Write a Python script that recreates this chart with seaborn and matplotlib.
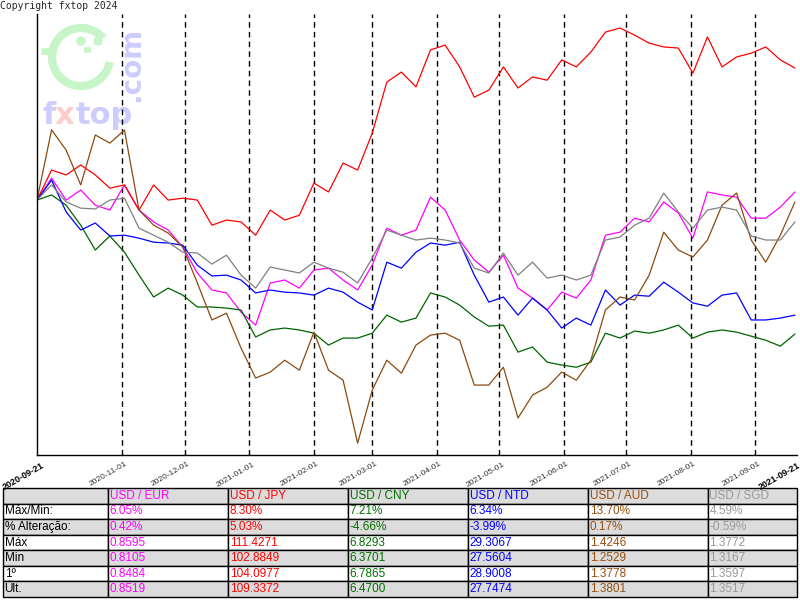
import pandas as pd
import matplotlib
matplotlib.use("Agg")
import matplotlib.pyplot as plt
import matplotlib.transforms as mtransforms
from matplotlib.patches import Arc, Circle
import seaborn as sns

# weekly samples, % change against the first day (2020-09-21)
dates = pd.date_range("2020-09-21", periods=53, freq="7D")

usd_eur = [0, 0.81, 0, 0.37, -0.19, -0.37, 0.56, -0.37, -0.81, -1.11, -1.74, -2.70, -3.33, -3.44,
           -4.15, -4.63, -3.07, -2.96, -3.26, -2.59, -2.52, -2.96, -3.33, -2.41, -1.04, -1.30, -1.11,
           0.11, -0.37, -1.48, -2.22, -2.67, -2.04, -3.26, -3.63, -4.07, -3.41, -3.63, -2.96, -1.30,
           -1.19, -0.67, -0.81, -0.07, -0.48, -1.41, 0.30, 0.19, 0.11, -0.67, -0.67, -0.26, 0.30]
usd_jpy = [0, 1.11, 0.93, 1.30, 0.93, 0.44, 0.56, -0.37, 0.56, 0, 0.07, 0, -0.93, -0.74,
           -0.81, -1.30, -0.37, -0.74, -0.56, 0.63, 0.30, 1.37, 1.11, 2.48, 4.37, 4.74, 4.19,
           5.56, 5.74, 4.93, 3.81, 4.07, 4.93, 4.15, 4.56, 4.44, 5.19, 4.93, 5.48, 6.22,
           6.37, 6.11, 5.81, 5.67, 5.63, 4.70, 6.04, 4.93, 5.30, 5.44, 5.67, 5.19, 4.89]
usd_cny = [0, 0.19, -0.19, -0.93, -1.85, -1.33, -1.93, -2.78, -3.59, -3.26, -3.52, -3.96, -3.96, -4.00,
           -4.07, -5.07, -4.81, -4.74, -4.81, -4.93, -5.37, -5.11, -5.11, -4.93, -4.26, -4.52, -4.37,
           -3.44, -3.59, -3.89, -4.33, -4.67, -4.63, -5.63, -5.44, -6.00, -6.11, -6.19, -6.00, -4.93,
           -5.11, -4.85, -4.93, -4.81, -4.63, -5.11, -4.89, -4.81, -4.89, -5.04, -5.19, -5.41, -4.96]
usd_ntd = [0, 0.74, -0.44, -1.11, -0.85, -1.33, -1.30, -1.41, -1.56, -1.59, -1.67, -2.41, -2.81, -2.78,
           -2.96, -3.44, -3.33, -3.41, -3.44, -3.52, -3.26, -3.41, -3.78, -4.07, -2.30, -2.52, -1.93,
           -1.59, -1.67, -1.56, -2.78, -3.78, -3.59, -4.26, -3.63, -4.07, -4.74, -4.37, -4.63, -3.33,
           -3.89, -3.52, -3.56, -3.04, -3.41, -3.81, -3.93, -3.52, -3.44, -4.44, -4.44, -4.37, -4.26]
usd_aud = [0, 2.60, 1.85, 0.56, 2.41, 2.11, 2.59, -0.37, -0.93, -1.22, -1.74, -3.07, -4.44, -4.19,
           -5.48, -6.59, -6.37, -5.93, -6.30, -4.89, -6.30, -6.67, -9.00, -7.04, -5.93, -6.41, -5.37,
           -5.00, -4.93, -5.19, -6.85, -6.85, -6.19, -8.07, -7.22, -6.93, -6.37, -6.67, -5.93, -4.07,
           -3.59, -3.70, -2.78, -1.19, -1.85, -2.11, -1.48, -0.19, 0.26, -1.48, -2.30, -1.30, -0.07]
usd_sgd = [0, 0.56, -0.07, -0.30, -0.33, 0, 0.07, -1.04, -1.30, -1.56, -1.93, -1.96, -2.37, -2.04,
           -2.78, -3.26, -2.48, -2.59, -2.70, -2.30, -2.52, -2.67, -3.07, -2.15, -1.11, -1.30, -1.48,
           -1.41, -1.48, -1.59, -2.52, -2.70, -1.96, -2.78, -2.30, -2.89, -2.78, -2.96, -2.78, -1.48,
           -1.37, -0.93, -0.67, 0.26, -0.44, -1.04, -0.37, -0.26, -0.37, -1.33, -1.48, -1.48, -0.81]

pairs = ["USD / EUR", "USD / JPY", "USD / CNY", "USD / NTD", "USD / AUD", "USD / SGD"]
line_colors = ["#ff00ff", "#ff0000", "#006400", "#0000ff", "#8b4a0f", "#808080"]
text_colors = ["#ff00ff", "#ff0000", "#007000", "#0000ff", "#96500f", "#999999"]

month_ticks = pd.date_range("2020-11-01", "2021-09-01", freq="MS")
start_date = pd.Timestamp("2020-09-21")
end_date = pd.Timestamp("2021-09-21")

stat_labels = ["Máx/Min:", "% Alteração:", "Máx", "Min", "1º", "Últ."]
eur_stats = ["6.05%", "0.42%", "0.8595", "0.8105", "0.8484", "0.8519"]
jpy_stats = ["8.30%", "5.03%", "111.4271", "102.8849", "104.0977", "109.3372"]
cny_stats = ["7.21%", "-4.66%", "6.8293", "6.3701", "6.7865", "6.4700"]
ntd_stats = ["6.34%", "-3.99%", "29.3067", "27.5604", "28.9008", "27.7474"]
aud_stats = ["13.70%", "0.17%", "1.4246", "1.2529", "1.3778", "1.3801"]
sgd_stats = ["4.59%", "-0.59%", "1.3772", "1.3167", "1.3597", "1.3517"]

sns.set_style("white")
plt.rcParams["font.family"] = ["Liberation Sans", "DejaVu Sans"]

series = [usd_eur, usd_jpy, usd_cny, usd_ntd, usd_aud, usd_sgd]
df = pd.DataFrame({"date": dates})
for name, vals in zip(pairs, series):
    df[name] = vals
df = df.melt(id_vars="date", var_name="pair", value_name="pct")

fig = plt.figure(figsize=(8, 6), dpi=100)

# watermark / copyright layer, in pixel units
bg = fig.add_axes([0, 0, 1, 1], zorder=0)
bg.set_xlim(0, 800)
bg.set_ylim(600, 0)
bg.axis("off")
bg.text(0, 1, "Copyright fxtop 2024", family="DejaVu Sans Mono", fontsize=7, va="top", ha="left")
green = "#c8f5c8"
bg.add_patch(Arc((81, 57), 58, 58, theta1=10, theta2=320, lw=6, color=green))
bg.plot([41, 53], [51, 51], color=green, lw=5, solid_capstyle="butt")
bg.add_patch(Circle((81, 41), 4, color=green))
bg.add_patch(Circle((98, 41), 4, color=green))
bg.plot([84, 91], [50, 50], color=green, lw=4, solid_capstyle="butt")
bg.text(42, 124, "f", family="DejaVu Sans", weight="bold", fontsize=22, color="#ccccff", va="baseline")
bg.text(55, 124, "x", family="DejaVu Sans", weight="bold", fontsize=22, color="#ffcccc", va="baseline")
bg.text(76, 124, "top", family="DejaVu Sans", weight="bold", fontsize=22, color="#ccccff", va="baseline")
bg.text(131, 64, ".com", family="DejaVu Sans", weight="bold", fontsize=20, color="#ccccff",
        rotation=90, ha="center", va="center")

ax = fig.add_axes([37 / 800, 145 / 600, 760 / 800, 441 / 600], zorder=1)
ax.set_facecolor("none")
for d in month_ticks:
    ax.axvline(d, color="black", lw=1, ls=(0, (4, 3)), zorder=1)
sns.lineplot(data=df, x="date", y="pct", hue="pair", palette=dict(zip(pairs, line_colors)),
             legend=False, lw=0.9, ax=ax, zorder=2)

ax.set_xlim(start_date, end_date)
ax.set_ylim(-9.44, 6.89)
ax.set_yticks([6.89])
ax.set_yticklabels([""])
ax.tick_params(axis="y", direction="inout", length=7, width=1, color="black")
ax.set_xlabel("")
ax.set_ylabel("")
for side in ["top", "right"]:
    ax.spines[side].set_visible(False)
for side in ["left", "bottom"]:
    ax.spines[side].set_color("black")
    ax.spines[side].set_linewidth(1)

ticks = [start_date] + list(month_ticks) + [end_date]
ax.set_xticks(ticks)
ax.set_xticklabels([t.strftime("%Y-%m-%d") for t in ticks], rotation=30, ha="right",
                   rotation_mode="anchor", fontsize=6, color="#333333")
ax.tick_params(axis="x", length=2, pad=2, color="black")
labels = ax.get_xticklabels()
for i, lab in enumerate(labels):
    dx = 4 if i == 0 else (0 if i == len(labels) - 1 else 3)
    shift = mtransforms.ScaledTranslation(dx / 100, 0, fig.dpi_scale_trans)
    lab.set_transform(lab.get_transform() + shift)
for lab in [labels[0], labels[-1]]:
    lab.set_color("black")
    lab.set_fontweight("bold")
    lab.set_fontsize(6.5)

# statistics table
stats = [eur_stats, jpy_stats, cny_stats, ntd_stats, aud_stats, sgd_stats]
cells = [[""] + pairs]
for i, lab in enumerate(stat_labels):
    cells.append([lab] + [s[i] for s in stats])
col_px = [105, 120, 120, 120, 120, 120, 89]

tax = fig.add_axes([3 / 800, 3 / 600, 794 / 800, 109 / 600])
tax.axis("off")
tbl = tax.table(cellText=cells, colWidths=[w / sum(col_px) for w in col_px],
                cellLoc="left", bbox=[0, 0, 1, 1])
tbl.auto_set_font_size(False)
tbl.set_fontsize(8.5)
for (r, c), cell in tbl.get_celld().items():
    cell.PAD = 0.015
    cell.set_edgecolor("black")
    cell.set_linewidth(1)
    cell.set_facecolor("#dcdcdc" if r % 2 == 0 else "white")
    cell.get_text().set_color("black" if c == 0 else text_colors[c - 1])

fig.savefig("out.png", dpi=100)
